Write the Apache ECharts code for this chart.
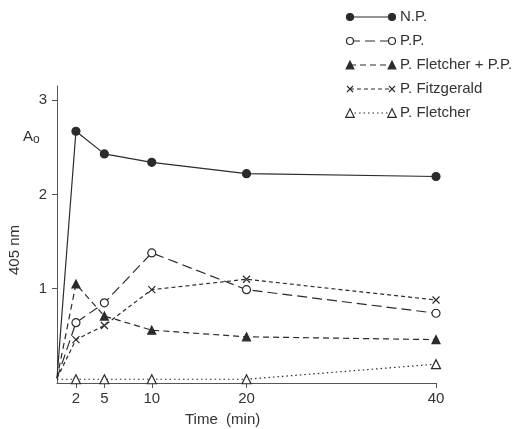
<!DOCTYPE html>
<html>
<head>
<meta charset="utf-8">
<script src="https://cdn.jsdelivr.net/npm/echarts@6/dist/echarts.min.js"></script>
<style>
  html, body { margin: 0; padding: 0; background: #fff; }
  #chart { width: 517px; height: 429px; }
</style>
</head>
<body>
<div id="chart"></div>
<script>
// Absorbance at 405 nm over time for each plasma sample
const times = [0, 2, 5, 10, 20, 40];
const xTicks = [2, 5, 10, 20, 40];
const yTicks = [1, 2, 3];

const np = [0.05, 2.67, 2.43, 2.34, 2.22, 2.19];
const pp = [0.05, 0.64, 0.85, 1.38, 0.99, 0.74];
const fletcherPP = [0.05, 1.05, 0.71, 0.56, 0.49, 0.46];
const fitzgerald = [0.05, 0.46, 0.61, 0.99, 1.10, 0.88];
const fletcher = [0.04, 0.04, 0.04, 0.04, 0.04, 0.20];

const seriesNames = ['N.P.', 'P.P.', 'P. Fletcher + P.P.', 'P. Fitzgerald', 'P. Fletcher'];

const ink = '#2b2b2b';
const font = 'Liberation Sans';
const crossPath = 'path://M0,0L10,10M10,0L0,10';

const styles = [
  { symbol: 'circle', size: 8, dash: 'solid', fill: ink },
  { symbol: 'circle', size: 8, dash: [10, 5], fill: '#fff' },
  { symbol: 'triangle', size: 8, dash: [6, 4], fill: ink },
  { symbol: crossPath, size: 7, dash: [4, 3], fill: 'none' },
  { symbol: 'triangle', size: 9, dash: [1.5, 3], fill: '#fff' }
];

const values = [np, pp, fletcherPP, fitzgerald, fletcher];

function makeSeries(i) {
  const st = styles[i];
  return {
    name: seriesNames[i],
    type: 'line',
    symbol: st.symbol,
    symbolSize: st.size,
    showAllSymbol: true,
    z: 5 - i,
    data: times.map((t, k) => {
      const item = { value: [t, values[i][k]] };
      if (t === 0) item.symbol = 'none';
      return item;
    }),
    lineStyle: { color: ink, width: 1.2, type: st.dash },
    itemStyle: { color: st.fill, borderColor: ink, borderWidth: 1.2 },
    emphasis: { disabled: true },
    animation: false
  };
}

// Legend drawn as line samples with a marker at both ends
const legendX0 = 350, legendX1 = 392, legendTop = 17, legendStep = 24;
const legendGraphics = [];
seriesNames.forEach((name, i) => {
  const st = styles[i];
  const y = legendTop + i * legendStep;
  legendGraphics.push({
    type: 'line',
    shape: { x1: legendX0, y1: y, x2: legendX1, y2: y },
    style: { stroke: ink, lineWidth: 1.1, lineDash: st.dash === 'solid' ? null : st.dash }
  });
  [legendX0, legendX1].forEach(cx => {
    if (st.symbol === 'circle') {
      legendGraphics.push({
        type: 'circle', shape: { cx: cx, cy: y, r: 3.5 },
        style: { fill: st.fill, stroke: ink, lineWidth: 1.2 }, z: 10
      });
    } else if (st.symbol === 'triangle') {
      const h = st.size * 0.95;
      legendGraphics.push({
        type: 'polygon',
        shape: { points: [[cx, y - h / 2], [cx + h / 2, y + h / 2], [cx - h / 2, y + h / 2]] },
        style: { fill: st.fill, stroke: ink, lineWidth: 1.2 }, z: 10
      });
    } else {
      legendGraphics.push({
        type: 'polyline', shape: { points: [[cx - 3, y - 3], [cx + 3, y + 3]] },
        style: { stroke: ink, lineWidth: 1.1 }, z: 10
      });
      legendGraphics.push({
        type: 'polyline', shape: { points: [[cx + 3, y - 3], [cx - 3, y + 3]] },
        style: { stroke: ink, lineWidth: 1.1 }, z: 10
      });
    }
  });
  legendGraphics.push({
    type: 'text', left: 400, top: y - 8,
    style: { text: name, font: '15px ' + font, fill: '#333' }
  });
});

const chart = echarts.init(document.getElementById('chart'), null, { renderer: 'canvas' });
chart.setOption({
  backgroundColor: '#fff',
  animation: false,
  grid: { left: 57, right: 81, top: 86, bottom: 46 },
  xAxis: {
    type: 'value', min: 0, max: 40,
    axisLine: { onZero: false, lineStyle: { color: '#555', width: 1 } },
    axisTick: { length: 5, lineStyle: { color: '#555' }, customValues: xTicks },
    axisLabel: { customValues: xTicks, color: '#333', fontFamily: font, fontSize: 15, margin: 8 },
    splitLine: { show: false }
  },
  yAxis: {
    type: 'value', min: 0, max: 3.15,
    axisLine: { show: true, lineStyle: { color: '#555', width: 1 } },
    axisTick: { show: true, length: 5, lineStyle: { color: '#555' }, customValues: yTicks },
    axisLabel: { customValues: yTicks, color: '#333', fontFamily: font, fontSize: 15, margin: 10 },
    splitLine: { show: false }
  },
  series: values.map((_, i) => makeSeries(i)),
  graphic: legendGraphics.concat([
    {
      type: 'text', left: 23, top: 129,
      style: {
        text: '{a|A}{s|o}',
        rich: {
          a: { font: '15px ' + font, fill: '#333' },
          s: { font: '12px ' + font, fill: '#333', verticalAlign: 'bottom', padding: [6, 0, 0, 0] }
        }
      }
    },
    {
      type: 'text', x: 15, y: 250, rotation: Math.PI / 2,
      style: { text: '405 nm', font: '15px ' + font, fill: '#333', align: 'center', verticalAlign: 'middle' }
    },
    {
      type: 'text', left: 185, top: 412,
      style: { text: 'Time  (min)', font: '15px ' + font, fill: '#333' }
    }
  ])
});
</script>
</body>
</html>
